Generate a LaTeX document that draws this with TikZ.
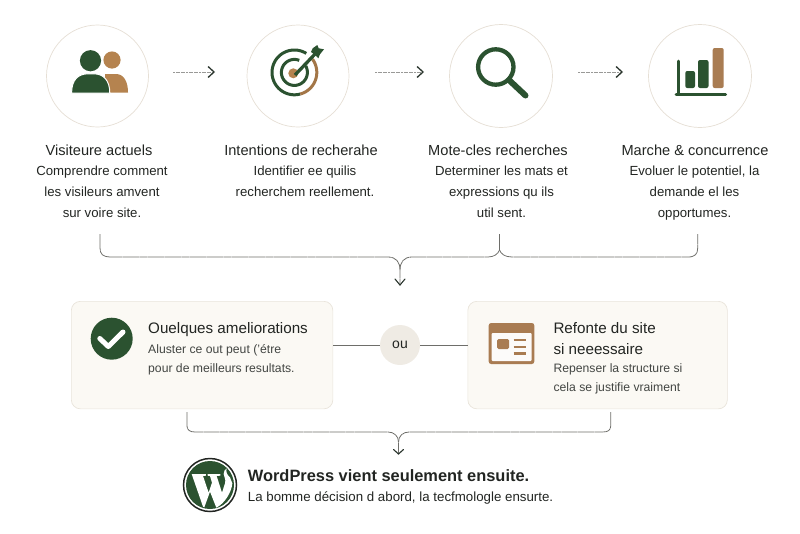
\documentclass[tikz,border=0pt]{standalone}
\usepackage{fontspec}
\setmainfont{Liberation Sans}
\usetikzlibrary{arrows.meta}
\definecolor{gr}{HTML}{2B5230}
\definecolor{br}{HTML}{B5834F}
\definecolor{brd}{HTML}{A97C52}
\definecolor{ringc}{HTML}{E6DFD5}
\definecolor{cardf}{HTML}{FBF9F4}
\definecolor{cardd}{HTML}{E9E4DB}
\definecolor{ouf}{HTML}{EFEBE4}
\definecolor{ink}{HTML}{222522}
\definecolor{chev}{HTML}{2A352D}
\definecolor{lin}{HTML}{6E6E6A}
\tikzset{
 x=1pt,y=-1pt,
 ring/.style={circle,draw=ringc,line width=.7pt,fill=white,minimum size=#1,inner sep=0pt},
 title/.style={font=\fontsize{14.6}{17}\selectfont,text=ink,inner sep=0pt,anchor=center},
 body/.style={font=\fontsize{13.2}{21}\selectfont,text=ink,align=center,inner sep=0pt,anchor=north},
 ctitle/.style={font=\fontsize{15.2}{21}\selectfont,text=ink,align=left,inner sep=0pt,anchor=north west},
 cbody/.style={font=\fontsize{12.2}{19}\selectfont,text=ink!85,align=left,inner sep=0pt,anchor=north west},
 card/.style={draw=cardd,line width=.7pt,fill=cardf,rounded corners=9pt,inner sep=0pt,anchor=north west},
 flow/.style={draw=lin!70,line width=.6pt,dash pattern=on 2pt off .6pt,
   -{Straight Barb[color=chev,length=6pt,width=11pt,line width=1.3pt]}},
 brace/.style={draw=lin,line width=.8pt,dash pattern=on 8pt off .4pt},
 tipc/.style={draw=chev,line width=1.1pt,line cap=round},
 link/.style={draw=lin,line width=.8pt},
}
\begin{document}
\begin{tikzpicture}
\useasboundingbox (0,0) rectangle (800,533);
% circles
\node[ring=102pt] (c1) at (97.5,76) {};
\node[ring=102pt] (c2) at (298,76) {};
\node[ring=103pt] (c3) at (501,76) {};
\node[ring=103pt] (c4) at (700,76) {};
% people
\fill[br] (112,60) circle (8.6);
\fill[br] (105,74) -- (116,74) .. controls (124,74) and (128,82) .. (128,92.5) -- (105,92.5) -- cycle;
\fill[gr] (90.5,60.7) circle (10.6);
\fill[gr,draw=white,line width=1pt] (71.6,93) .. controls (71.6,80) and (78,73.8) .. (88,73.8) -- (94,73.8) .. controls (103,73.8) and (109.8,80) .. (109.8,93) -- cycle;
% target
\draw[gr,line width=3pt] plot[domain=58:285,samples=50] ({294.4+22.4*cos(\x)},{72.4-22.4*sin(\x)});
\draw[br!90!black,line width=3pt] plot[domain=-75:36,samples=30] ({294.4+22.4*cos(\x)},{72.4-22.4*sin(\x)});
\draw[gr,line width=3pt] plot[domain=68:390,samples=50] ({294.4+13*cos(\x)},{72.4-13*sin(\x)});
\fill[br] (293.3,73.3) circle (5);
\draw[gr,line width=3.3pt] (295,75) -- (316,53);
\fill[gr] (312.7,48.3) -- (317.3,45) -- (318.7,48.3) -- (324,49.3) -- (320,54.3) -- (318.3,58.3) -- (315,55) -- (311,52) -- cycle;
% magnifier
\draw[gr,line width=4.3pt] (495.8,67) circle (17.7);
\draw[gr,line width=6pt,line cap=round] (509.5,80.5) -- (525.5,95.5);
% chart
\draw[gr,line width=2.6pt,line cap=round] (678.3,61) -- (678.3,94);
\draw[gr,line width=3pt,line cap=round] (676,94) -- (725.5,94);
\fill[gr,rounded corners=2pt] (685.3,71) rectangle (695,88);
\fill[gr,rounded corners=2pt] (698,60) rectangle (708.5,88);
\fill[brd,rounded corners=2pt] (712.7,48) rectangle (723.7,88);
% flow arrows
\coordinate (a1s) at (173,72); \coordinate (a1e) at (215,72);
\coordinate (a2s) at (375,72); \coordinate (a2e) at (424,72);
\coordinate (a3s) at (578,72); \coordinate (a3e) at (623,72);
\draw[flow] (a1s) -- (a1e);
\draw[flow] (a2s) -- (a2e);
\draw[flow] (a3s) -- (a3e);
% column text
\node[title] (t1) at (99,150) {Visiteure actuels};
\node[title] (t2) at (301,150) {Intentions de recherahe};
\node[title] (t3) at (498,150) {Mote-cles recherches};
\node[title] (t4) at (695,150) {Marche \& concurrence};
\node[body] (b1) at (102,165.5) {Comprendre comment\\les visileurs amvent\\sur voire site.};
\node[body] (b2) at (305,165.5) {Identifier ee quilis\\recherchem reellement.};
\node[body] (b3) at (501.5,165.5) {Determiner les mats et\\expressions qu ils\\util sent.};
\node[body] (b4) at (694.5,165.5) {Evoluer le potentiel, la\\demande el les\\opportumes.};
% upper bracket
\coordinate (u1) at (100,234);
\coordinate (u3) at (499.5,234);
\coordinate (u4) at (697.7,234);
\coordinate (uj) at (499.5,250);
\coordinate (ut) at (400,285);
\draw[brace] (u1) -- (100,248) .. controls (100,254) and (103,257) .. (110,257) -- (388,257) .. controls (396,257) and (400,262) .. (400,270) -- (ut);
\draw[brace] (u3) -- (uj) .. controls (498,254) and (494,257) .. (488,257) -- (412,257) .. controls (404,257) and (400,262) .. (400,270);
\draw[brace] (uj) .. controls (501,254) and (505,257) .. (512,257) -- (688,257) .. controls (695,257) and (697.7,254) .. (697.7,248) -- (u4);
\draw[tipc] (395,279) -- (ut) -- (405,279);
% cards
\node[card,minimum width=261.5pt,minimum height=107.5pt] (k1) at (71,301) {};
\node[card,minimum width=259.5pt,minimum height=107.5pt] (k2) at (467.5,301) {};
\node[circle,fill=ouf,minimum size=40pt,inner sep=0pt,font=\fontsize{14}{15}\selectfont,text=ink] (ou) at (400,345) {ou};
\draw[link] (k1.east |- ou) -- (ou);
\draw[link] (ou) -- (k2.west |- ou);
% check
\fill[gr] (111.7,338.7) circle (21);
\draw[white,line width=5pt,line cap=round,line join=round] (99.8,338.5) -- (108.3,346.5) -- (123,332);
% browser
\fill[brd,rounded corners=2.5pt] (488.7,323) rectangle (534.3,364);
\fill[white!97!brd,rounded corners=1pt] (491.5,333) rectangle (531.5,361);
\fill[brd,rounded corners=1.5pt] (497,339) rectangle (509,349);
\draw[brd,line width=2.4pt] (513.5,340) -- (526,340) (513.5,346.7) -- (526,346.7) (513.5,353.3) -- (526,353.3);
% card text
\node[ctitle] (k1t) at (148,322) {Ouelques ameliorations};
\node[cbody] (k1b) at (148,344.5) {Aluster ce out peut ('étre\\pour de meilleurs resultats.};
\node[ctitle] (k2t) at (553.3,322) {Refonte du site\\si neeessaire};
\node[cbody] (k2b) at (553.3,363) {Repenser la structure si\\cela se justifie vraiment};
% lower bracket
\coordinate (l1) at (187,412);
\coordinate (l2) at (610.7,412);
\coordinate (lt) at (398.5,454);
\draw[brace] (l1) -- (187,426) .. controls (187,430) and (190,432) .. (195,432) -- (388,432) .. controls (394,432) and (398.5,436) .. (398.5,442) -- (lt);
\draw[brace] (l2) -- (610.7,426) .. controls (610.7,430) and (608,432) .. (603,432) -- (409,432) .. controls (403,432) and (398.5,436) .. (398.5,442);
\draw[tipc] (393.5,449.5) -- (lt) -- (403.5,449.5);
% WordPress logo
\draw[ink,line width=1.5pt] (210,485) circle (26.5);
\fill[gr] (210,485) circle (24);
\begin{scope}[shift={(175,450)},x=.3333pt,y=-.3333pt]
\fill[white] (50,72) -- (93,72) -- (93,77) -- (84,78) -- (101,128) -- (111,98) -- (105,78) -- (98,77) -- (98,72) -- (136,72) -- (136,77) -- (125,78) -- (141,128) -- (150,100) .. controls (154,88) and (146,80) .. (146,72) .. controls (146,64) and (150,58) .. (155,55) .. controls (152,66) and (156,74) .. (165,82) -- (172,100) .. controls (170,125) and (150,160) .. (124,173) -- (105,125) -- (88,172) -- (84,170) -- cycle;
\end{scope}
\node[font=\fontsize{16.4}{19}\selectfont\bfseries,text=ink,inner sep=0pt,anchor=west] (w1) at (247.7,476) {WordPress vient seulement ensuite.};
\node[font=\fontsize{13.3}{15}\selectfont,text=ink,inner sep=0pt,anchor=west] (w2) at (247.7,498) {La bomme décision d abord, la tecfmologle ensurte.};
\end{tikzpicture}
\end{document}
